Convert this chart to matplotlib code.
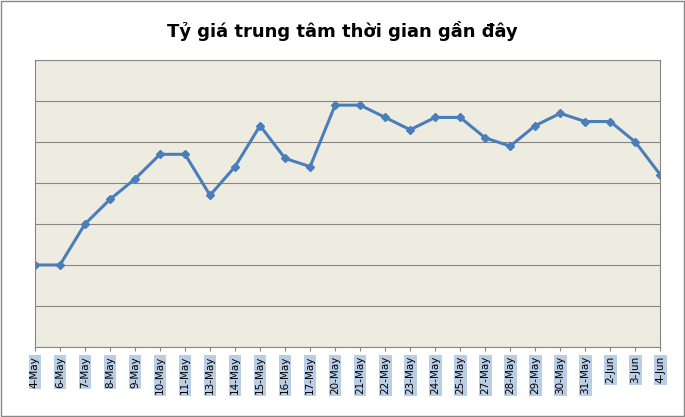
import matplotlib
matplotlib.use("Agg")
import matplotlib.pyplot as plt
from matplotlib.patches import Rectangle

dates = ["4-May","6-May","7-May","8-May","9-May","10-May","11-May","13-May","14-May","15-May",
         "16-May","17-May","20-May","21-May","22-May","23-May","24-May","25-May","27-May","28-May",
         "29-May","30-May","31-May","2-Jun","3-Jun","4-Jun"]
values = [2.0,2.0,3.0,3.6,4.1,4.7,4.7,3.7,4.4,5.4,4.6,4.4,5.9,5.9,5.6,5.3,5.6,5.6,5.1,4.9,
          5.4,5.7,5.5,5.5,5.0,4.2]

fig = plt.figure(figsize=(6.85, 4.17), dpi=100)
fig.patches.append(Rectangle((0.002, 0.002), 0.996, 0.996, transform=fig.transFigure,
                             fill=False, edgecolor="#888888", linewidth=1))
ax = fig.add_axes([0.051, 0.168, 0.913, 0.688])
ax.set_facecolor("#EEECE1")
x = list(range(len(dates)))
ax.plot(x, values, color="#4A7EBB", linewidth=2.2, marker="D", markersize=4.5)
ax.set_xlim(0, len(dates) - 1)
ax.set_ylim(0, 7)
ax.set_yticks(range(8))
ax.set_yticklabels([])
ax.tick_params(axis="y", length=0)
ax.grid(axis="y", color="#868686", linewidth=0.8)
ax.set_axisbelow(True)
for s in ax.spines.values():
    s.set_color("#868686")
ax.set_xticks(x)
ax.set_xticklabels(dates, rotation=90, fontsize=7.5)
ax.tick_params(axis="x", length=3, color="#868686")
for lbl in ax.get_xticklabels():
    lbl.set_bbox(dict(facecolor="#B9CDE5", edgecolor="none", pad=1.0))
fig.text(0.5, 0.925, "Tỷ giá trung tâm thời gian gần đây", ha="center", va="center",
         fontsize=13, fontweight="bold")
fig.savefig("out.png", dpi=100)
